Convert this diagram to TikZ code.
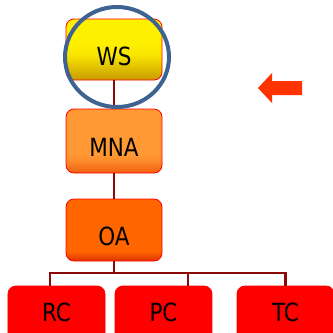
\documentclass[tikz,border=0pt]{standalone}
\usepackage{fontspec}
\setmainfont[FakeStretch=0.86]{DejaVu Sans}
\usetikzlibrary{positioning}

% vertical fills for the boxes (path spans 25bp..75bp)
\definecolor{wsTop}{RGB}{255,240,0}
\definecolor{wsBot}{RGB}{200,155,0}
\definecolor{mnaTop}{RGB}{255,153,51}
\definecolor{mnaBot}{RGB}{240,95,15}
\definecolor{oaTop}{RGB}{255,102,0}
\definecolor{oaBot}{RGB}{220,50,0}
\definecolor{lvTop}{RGB}{255,0,0}
\definecolor{lvBot}{RGB}{205,0,0}
\definecolor{linkred}{RGB}{140,10,10}
\definecolor{ringblue}{RGB}{62,98,145}
\definecolor{arrowred}{RGB}{255,51,0}

\pgfdeclareverticalshading{wsfill}{100bp}{color(0bp)=(wsBot); color(25bp)=(wsBot); color(45bp)=(wsTop!85!wsBot); color(55bp)=(wsTop); color(100bp)=(wsTop)}
\pgfdeclareverticalshading{mnafill}{100bp}{color(0bp)=(mnaBot); color(25bp)=(mnaBot); color(35bp)=(mnaTop!80!mnaBot); color(40bp)=(mnaTop); color(100bp)=(mnaTop)}
\pgfdeclareverticalshading{oafill}{100bp}{color(0bp)=(oaBot); color(25bp)=(oaBot); color(33bp)=(oaTop); color(100bp)=(oaTop)}
\pgfdeclareverticalshading{lvfill}{100bp}{color(0bp)=(lvBot); color(32bp)=(lvBot); color(40bp)=(lvTop); color(100bp)=(lvTop)}

\tikzset{
  orgbox/.style={draw=red, line width=0.8pt, rounded corners=8pt,
    minimum width=96pt, inner sep=0pt, font=\fontsize{25}{25}\selectfont,
    text height=31pt, text depth=0pt},
  leafbox/.style={orgbox, shading=lvfill, minimum height=68pt,
    minimum width=97pt, text height=3.6pt},
  link/.style={draw=linkred, line width=2.6pt}
}

\begin{document}
\begin{tikzpicture}[x=1pt,y=-1pt]
  \useasboundingbox (0,0) rectangle (333,333);
  \clip (0,0) rectangle (333,333);

  % boxes
  \node[orgbox, shading=wsfill, minimum height=61pt] (ws) at (114,49.5) {WS};
  \node[orgbox, shading=mnafill, minimum height=64pt] (mna) at (114,141) {MNA};
  \node[orgbox, shading=oafill, minimum height=62pt] (oa) at (114,230) {OA};
  \node[leafbox] (rc) at (56.5,320) {RC};
  \node[leafbox] (pc) at (163.5,320) {PC};
  \node[leafbox] (tc) at (285.5,320) {TC};

  % connectors
  \coordinate (bus) at (114,273);
  \coordinate (pcdrop) at (188,286);
  \coordinate (rcdrop) at (50,286);
  \path[link] (ws.south) -- (mna.north);
  \path[link] (mna.south) -- (oa.north);
  \path[link] (oa.south) -- (bus);
  \path[link] (rcdrop) |- (bus) -| (tc.north);
  \path[link] (bus) -| (pcdrop);

  % highlight ring
  \draw[ringblue, line width=4pt] (117,57) ellipse [x radius=52, y radius=50];

  % pointer arrow
  \fill[arrowred] (258,88) -- (272,73) -- (272,81) -- (302,81)
    -- (302,95) -- (272,95) -- (272,103) -- cycle;
\end{tikzpicture}
\end{document}
